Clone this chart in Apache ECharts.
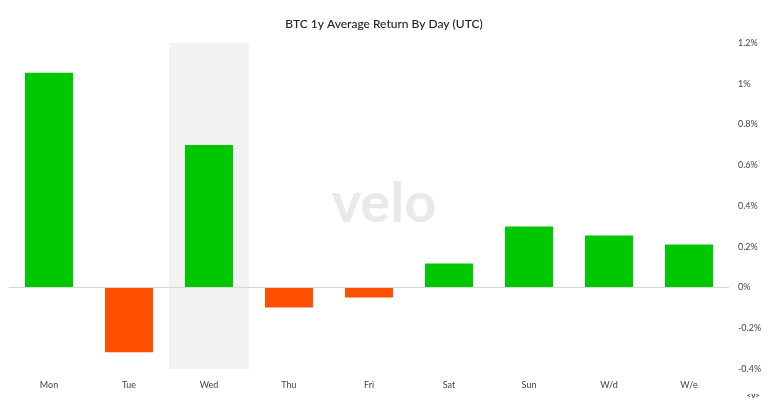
<!DOCTYPE html>
<html><head><meta charset="utf-8">
<script src="https://cdn.jsdelivr.net/npm/echarts@6/dist/echarts.min.js"></script>
<style>html,body{margin:0;padding:0;background:#fff}#c{width:768px;height:402px}</style>
</head><body><div id="c"></div>
<script>
const categories = ['Mon','Tue','Wed','Thu','Fri','Sat','Sun','W/d','W/e'];
const returns = [1.054, -0.318, 0.70, -0.098, -0.049, 0.118, 0.299, 0.255, 0.211];
const highlightDay = 'Wed';
const chart = echarts.init(document.getElementById('c'));
chart.setOption({
  animation:false,
  backgroundColor:'#fff',
  textStyle:{fontFamily:'Lato'},
  title:{text:'BTC 1y Average Return By Day (UTC)',left:'center',top:13,
    textStyle:{fontSize:12,fontWeight:500,color:'#222',fontFamily:'Lato'}},
  graphic:[
    {type:'text',left:'center',top:176,z:0,silent:true,
     style:{text:'velo',fontSize:56,fontWeight:'bold',fill:'#e9e9e9',fontFamily:'Lato'}},
    {type:'text',right:8,bottom:3,style:{text:'<v>',fontSize:8,fontWeight:'bold',fill:'#555',fontFamily:'Lato'}}
  ],
  grid:{left:9,right:39,top:43,bottom:33,containLabel:false},
  xAxis:{type:'category',data:categories,
    axisLine:{show:false},axisTick:{show:false},
    axisLabel:{color:'#444',fontSize:9,margin:12}},
  yAxis:{type:'value',position:'right',min:-0.4,max:1.2,interval:0.2,
    axisLine:{show:false},axisTick:{show:false},splitLine:{show:false},
    axisLabel:{color:'#444',fontSize:9,margin:9,
      formatter:v=>{const r=Math.round(v*10)/10;return (Number.isInteger(r)?r:r.toFixed(1))+'%';}}},
  series:[{type:'bar',barWidth:'60%',
    data:returns.map(v=>({value:v,itemStyle:{color:v>=0?'#00c800':'#ff5000'}})),
    markArea:{silent:true,itemStyle:{color:'#f2f2f2'},data:[[{xAxis:highlightDay,yAxis:1.2},{xAxis:highlightDay,yAxis:-0.4}]]},
    markLine:{silent:true,symbol:'none',label:{show:false},lineStyle:{color:'#d8d8d8',width:1,type:'solid'},data:[{yAxis:0}]},
    z:2
  }]
});
</script></body></html>
